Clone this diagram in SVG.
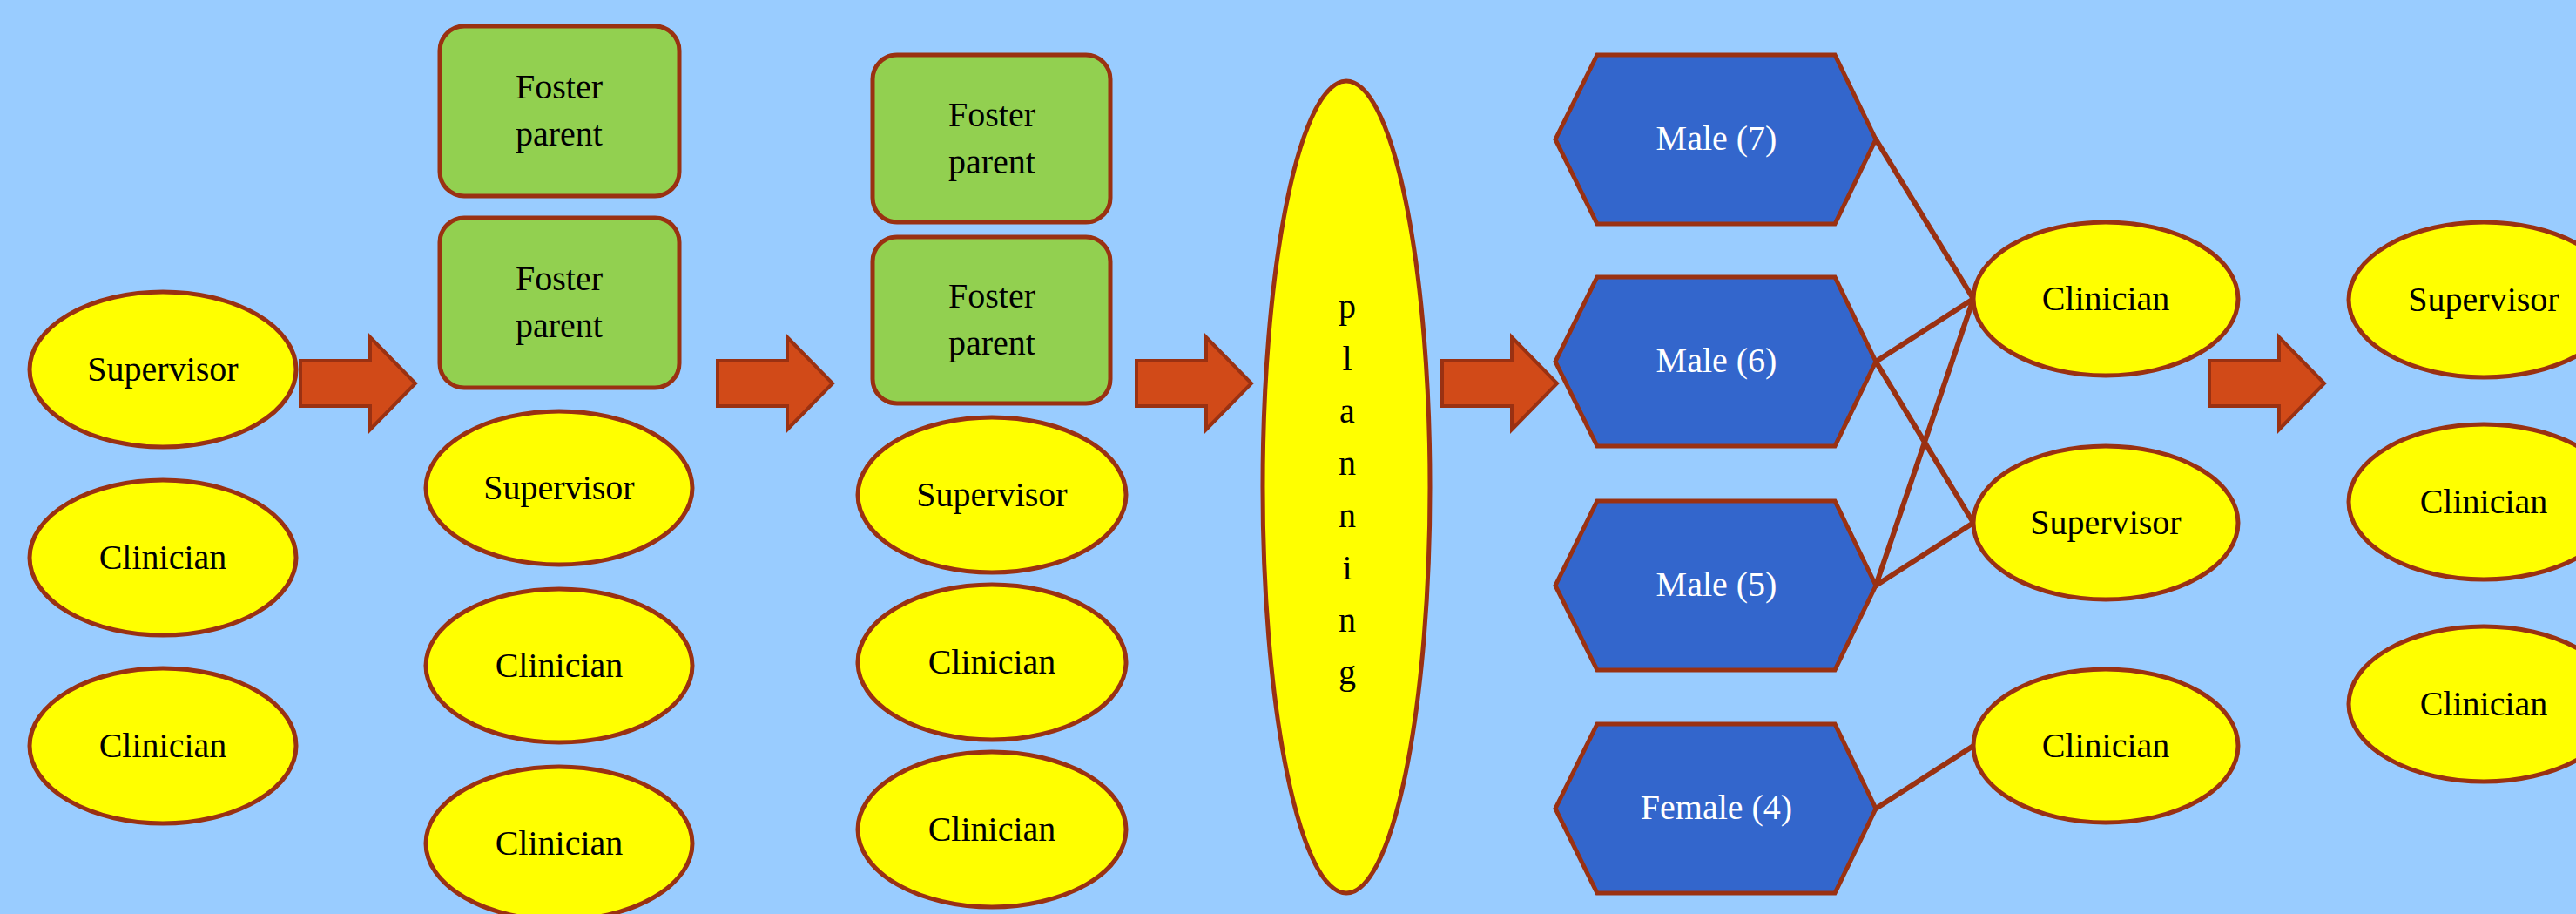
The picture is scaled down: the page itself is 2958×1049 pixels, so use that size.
<svg xmlns="http://www.w3.org/2000/svg" xmlns:xlink="http://www.w3.org/1999/xlink" width="2958" height="1049" viewBox="0 0 2958 1049">
<style>
.ell{fill:#FFFF00;stroke:#9A3112;stroke-width:5}
.box{fill:#92D050;stroke:#9A3112;stroke-width:5}
.hex{fill:#3366CC;stroke:#9A3112;stroke-width:5}
.arr{fill:#D14A18;stroke:#9A3112;stroke-width:4}
.t{font-family:"Liberation Serif","Times New Roman",serif;font-size:40px;fill:#000;text-anchor:middle}
.w{fill:#FFFFFF}
.con{stroke:#9A3112;stroke-width:6;fill:none;stroke-linecap:round}
</style>
<defs>
<polygon id="arrowShape" class="arr" points="0,-26 80,-26 80,-53 132,0 80,53 80,26 0,26"/>
<polygon id="hexShape" class="hex" points="-184,0 -136,-97 137,-97 184,0 137,97 -136,97"/>
</defs>
<rect x="0" y="0" width="2958" height="1049" fill="#99CCFF"/>

<g id="connectors">
<line class="con" x1="2154" y1="160" x2="2266" y2="343"/>
<line class="con" x1="2154" y1="415" x2="2266" y2="343"/>
<line class="con" x1="2154" y1="415" x2="2266" y2="600"/>
<line class="con" x1="2154" y1="672" x2="2266" y2="343"/>
<line class="con" x1="2154" y1="672" x2="2266" y2="600"/>
<line class="con" x1="2154" y1="928" x2="2266" y2="856"/>
</g>

<g id="arrows">
<use xlink:href="#arrowShape" transform="translate(345,440)"/>
<use xlink:href="#arrowShape" transform="translate(824,440)"/>
<use xlink:href="#arrowShape" transform="translate(1305,440)"/>
<use xlink:href="#arrowShape" transform="translate(1656,440)"/>
<use xlink:href="#arrowShape" transform="translate(2537,440)"/>
</g>

<!-- Column 1 -->
<g id="c1-supervisor"><ellipse class="ell" cx="187" cy="424" rx="153" ry="89"/><text class="t" x="187" y="437">Supervisor</text></g>
<g id="c1-clinician1"><ellipse class="ell" cx="187" cy="640" rx="153" ry="89"/><text class="t" x="187" y="653">Clinician</text></g>
<g id="c1-clinician2"><ellipse class="ell" cx="187" cy="856" rx="153" ry="89"/><text class="t" x="187" y="869">Clinician</text></g>

<!-- Column 2 -->
<g id="c2-foster1"><rect class="box" x="505" y="30" width="275" height="195" rx="28"/><text class="t" x="642" y="113">Foster</text><text class="t" x="642" y="167">parent</text></g>
<g id="c2-foster2"><rect class="box" x="505" y="250" width="275" height="195" rx="28"/><text class="t" x="642" y="333">Foster</text><text class="t" x="642" y="387">parent</text></g>
<g id="c2-supervisor"><ellipse class="ell" cx="642" cy="560" rx="153" ry="88"/><text class="t" x="642" y="573">Supervisor</text></g>
<g id="c2-clinician1"><ellipse class="ell" cx="642" cy="764" rx="153" ry="88"/><text class="t" x="642" y="777">Clinician</text></g>
<g id="c2-clinician2"><ellipse class="ell" cx="642" cy="968" rx="153" ry="88"/><text class="t" x="642" y="981">Clinician</text></g>

<!-- Column 3 -->
<g id="c3-foster1"><rect class="box" x="1002" y="63" width="273" height="192" rx="28"/><text class="t" x="1139" y="145">Foster</text><text class="t" x="1139" y="199">parent</text></g>
<g id="c3-foster2"><rect class="box" x="1002" y="272" width="273" height="191" rx="28"/><text class="t" x="1139" y="353">Foster</text><text class="t" x="1139" y="407">parent</text></g>
<g id="c3-supervisor"><ellipse class="ell" cx="1139" cy="568" rx="154" ry="89"/><text class="t" x="1139" y="581">Supervisor</text></g>
<g id="c3-clinician1"><ellipse class="ell" cx="1139" cy="760" rx="154" ry="89"/><text class="t" x="1139" y="773">Clinician</text></g>
<g id="c3-clinician2"><ellipse class="ell" cx="1139" cy="952" rx="154" ry="89"/><text class="t" x="1139" y="965">Clinician</text></g>

<!-- Planning -->
<g id="planning"><ellipse class="ell" cx="1546" cy="559" rx="96" ry="466"/>
<text class="t" x="1547" y="365">p</text>
<text class="t" x="1547" y="425">l</text>
<text class="t" x="1547" y="485">a</text>
<text class="t" x="1547" y="545">n</text>
<text class="t" x="1547" y="605">n</text>
<text class="t" x="1547" y="665">i</text>
<text class="t" x="1547" y="725">n</text>
<text class="t" x="1547" y="785">g</text>
</g>

<!-- Hexagons -->
<g id="male7"><use xlink:href="#hexShape" transform="translate(1970,160)"/><text class="t w" x="1971" y="172">Male (7)</text></g>
<g id="male6"><use xlink:href="#hexShape" transform="translate(1970,415)"/><text class="t w" x="1971" y="427">Male (6)</text></g>
<g id="male5"><use xlink:href="#hexShape" transform="translate(1970,672)"/><text class="t w" x="1971" y="684">Male (5)</text></g>
<g id="female4"><use xlink:href="#hexShape" transform="translate(1970,928)"/><text class="t w" x="1971" y="940">Female (4)</text></g>

<!-- Middle roles -->
<g id="m-clinician1"><ellipse class="ell" cx="2418" cy="343" rx="152" ry="88"/><text class="t" x="2418" y="356">Clinician</text></g>
<g id="m-supervisor"><ellipse class="ell" cx="2418" cy="600" rx="152" ry="88"/><text class="t" x="2418" y="613">Supervisor</text></g>
<g id="m-clinician2"><ellipse class="ell" cx="2418" cy="856" rx="152" ry="88"/><text class="t" x="2418" y="869">Clinician</text></g>

<!-- Right column -->
<g id="r-supervisor"><ellipse class="ell" cx="2852" cy="344" rx="155" ry="89"/><text class="t" x="2852" y="357">Supervisor</text></g>
<g id="r-clinician1"><ellipse class="ell" cx="2852" cy="576" rx="155" ry="89"/><text class="t" x="2852" y="589">Clinician</text></g>
<g id="r-clinician2"><ellipse class="ell" cx="2852" cy="808" rx="155" ry="89"/><text class="t" x="2852" y="821">Clinician</text></g>
</svg>
